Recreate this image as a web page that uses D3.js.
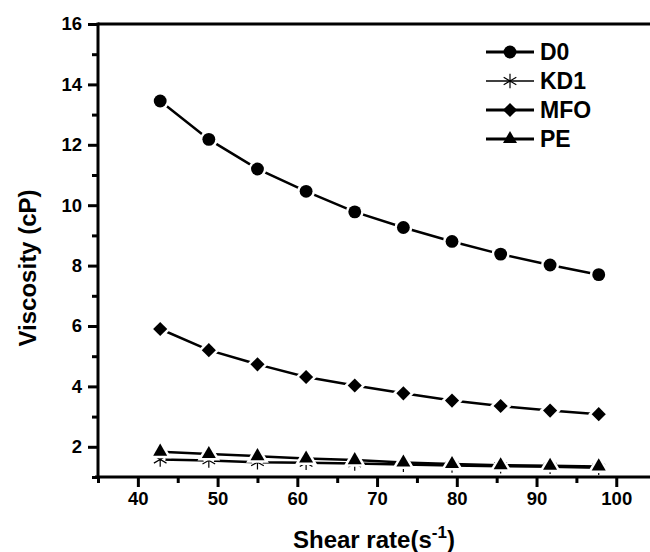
<!DOCTYPE html>
<html>
<head>
<meta charset="utf-8">
<script src="https://cdn.jsdelivr.net/npm/d3@7"></script>
<style>
  body { margin: 0; background: #fff; }
  svg { display: block; font-family: "Liberation Sans", Arial, sans-serif; font-weight: bold; }
</style>
</head>
<body>
<svg width="650" height="552"></svg>
<script>
// shear rate (s^-1)
var shearRate = [42.8, 48.9, 55.0, 61.1, 67.2, 73.3, 79.4, 85.5, 91.7, 97.8];

var seriesNames = ["D0", "KD1", "MFO", "PE"];
var d0  = [13.45, 12.18, 11.2, 10.46, 9.78, 9.26, 8.8, 8.38, 8.02, 7.7];
var kd1 = [1.58, 1.55, 1.49, 1.47, 1.45, 1.41, 1.38, 1.36, 1.34, 1.31];
var mfo = [5.9, 5.2, 4.73, 4.31, 4.03, 3.77, 3.53, 3.35, 3.2, 3.08];
var pe  = [1.84, 1.76, 1.69, 1.61, 1.56, 1.48, 1.43, 1.39, 1.37, 1.35];

var xMajor = [40, 50, 60, 70, 80, 90, 100, 110],
    xMinor = [35, 45, 55, 65, 75, 85, 95, 105],
    yMajor = [2, 4, 6, 8, 10, 12, 14, 16],
    yMinor = [1, 3, 5, 7, 9, 11, 13, 15];

var svg = d3.select("svg"),
    plotLeft = 98, plotTop = 24, plotRight = 696, plotBottom = 477;

var x = d3.scaleLinear().domain([35, 110]).range([plotLeft, plotRight]);
var y = d3.scaleLinear().domain([1, 16]).range([plotBottom, plotTop]);

var series = [d0, kd1, mfo, pe].map(function(vals, i) {
  return {
    name: seriesNames[i],
    points: vals.map(function(v, j) { return {x: shearRate[j], y: v}; })
  };
});

var symbols = {
  "D0":  {type: d3.symbolCircle, size: 130, rot: 0, fill: true},
  "KD1": {type: d3.symbolAsterisk, size: 150, rot: 0, fill: false},
  "MFO": {type: d3.symbolSquare, size: 100, rot: 45, fill: true},
  "PE":  {type: d3.symbolTriangle, size: 85, rot: 0, fill: true}
};

// axes frame
svg.append("line")
    .attr("x1", plotLeft).attr("x2", 650).attr("y1", plotTop).attr("y2", plotTop)
    .attr("stroke", "#000").attr("stroke-width", 3);
svg.append("line")
    .attr("x1", plotLeft - 3).attr("x2", 650).attr("y1", plotBottom).attr("y2", plotBottom)
    .attr("stroke", "#000").attr("stroke-width", 3);
svg.append("line")
    .attr("x1", plotLeft).attr("x2", plotLeft).attr("y1", plotTop - 1.5).attr("y2", plotBottom + 1.5)
    .attr("stroke", "#000").attr("stroke-width", 3);

// x ticks
var xAxis = d3.axisBottom(x).tickValues(xMajor).tickSize(9).tickSizeOuter(0).tickPadding(5)
    .tickFormat(function(d) { return d <= 100 ? d : ""; });
svg.append("g").attr("transform", "translate(0," + (plotBottom + 1) + ")").call(xAxis);
svg.append("g").attr("transform", "translate(0," + (plotBottom + 1) + ")")
    .call(d3.axisBottom(x).tickValues(xMinor).tickSize(5).tickSizeOuter(0).tickFormat(""));

// y ticks
svg.append("g").attr("transform", "translate(" + (plotLeft - 1) + ",0)")
    .call(d3.axisLeft(y).tickValues(yMajor).tickSize(9).tickSizeOuter(0).tickPadding(6));
svg.append("g").attr("transform", "translate(" + (plotLeft - 1) + ",0)")
    .call(d3.axisLeft(y).tickValues(yMinor).tickSize(5).tickSizeOuter(0).tickFormat(""));

svg.selectAll(".domain").remove();
svg.selectAll(".tick line").attr("stroke", "#000").attr("stroke-width", 3);
svg.selectAll(".tick text")
    .attr("fill", "#000")
    .style("font-size", "18.5px")
    .style("font-family", "Liberation Sans, Arial, sans-serif")
    .style("font-weight", "bold");

// series
var line = d3.line()
    .x(function(d) { return x(d.x); })
    .y(function(d) { return y(d.y); });

function symbolPath(s) {
  return d3.symbol().type(symbols[s].type).size(symbols[s].size)();
}

series.forEach(function(s) {
  var sym = symbols[s.name];
  svg.append("path")
      .datum(s.points)
      .attr("d", line)
      .attr("fill", "none")
      .attr("stroke", "#000")
      .attr("stroke-width", 2.5);

  var m = svg.append("g").selectAll("g")
      .data(s.points)
    .enter().append("g")
      .attr("transform", function(d) {
        return "translate(" + x(d.x) + "," + y(d.y) + ") rotate(" + sym.rot + ")";
      });

  // white halo gives the gap between line and marker
  m.append("path")
      .attr("d", sym.fill ? symbolPath(s.name) : d3.symbol().type(d3.symbolCircle).size(90)())
      .attr("fill", "#fff")
      .attr("stroke", "#fff")
      .attr("stroke-width", sym.fill ? 5 : 0);

  m.append("path")
      .attr("d", symbolPath(s.name))
      .attr("fill", sym.fill ? "#000" : "none")
      .attr("stroke", "#000")
      .attr("stroke-width", sym.fill ? 0 : 1.2);
});

// legend
var legendY = [52, 81, 110, 139];
var legend = svg.append("g").selectAll("g")
    .data(seriesNames)
  .enter().append("g")
    .attr("transform", function(d, i) { return "translate(486," + legendY[i] + ")"; });

legend.append("line")
    .attr("x1", 0).attr("x2", 48)
    .attr("stroke", "#000")
    .attr("stroke-width", function(d) { return d == "KD1" ? 1.5 : 3; });

legend.append("path")
    .attr("transform", function(d) { return "translate(24,0) rotate(" + symbols[d].rot + ")"; })
    .attr("d", function(d) { return symbolPath(d); })
    .attr("fill", function(d) { return symbols[d].fill ? "#000" : "none"; })
    .attr("stroke", "#000")
    .attr("stroke-width", function(d) { return symbols[d].fill ? 0 : 1.2; });

legend.append("text")
    .attr("x", 54)
    .attr("y", 8)
    .style("font-size", "23px")
    .text(function(d) { return d; });

// axis titles
var xt = svg.append("text")
    .attr("x", 293)
    .attr("y", 548)
    .style("font-size", "24px");
xt.append("tspan").text("Shear rate(s");
xt.append("tspan").attr("dy", -10).style("font-size", "17px").text("-1");
xt.append("tspan").attr("dy", 10).text(")");

svg.append("text")
    .attr("transform", "translate(36,268) rotate(-90)")
    .attr("text-anchor", "middle")
    .style("font-size", "24px")
    .text("Viscosity (cP)");
</script>
</body>
</html>
